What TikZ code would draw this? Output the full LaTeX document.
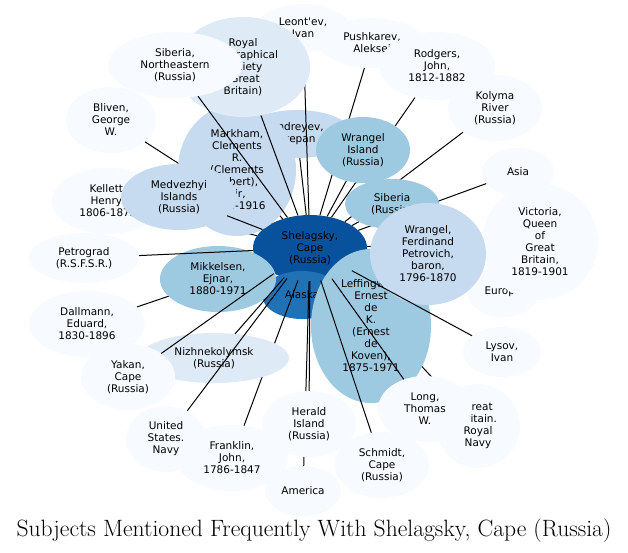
\documentclass[tikz,border=0pt]{standalone}
\usepackage{fontspec}
\usetikzlibrary{shapes.geometric}
\newfontfamily\subjfont{DejaVu Sans}
\definecolor{blue1}{HTML}{08519C}
\definecolor{blue2}{HTML}{2171B5}
\definecolor{blue3}{HTML}{9ECAE1}
\definecolor{blue4}{HTML}{C6DBEF}
\definecolor{blue5}{HTML}{DEEBF7}
\definecolor{blue6}{HTML}{F7FBFF}
\pgfdeclarelayer{bottom}
\pgfdeclarelayer{low}
\pgfdeclarelayer{mid}
\pgfdeclarelayer{front}
\pgfsetlayers{bottom,low,mid,main,front}

\begin{document}
\begin{tikzpicture}
  [ x=1pt, y=-1pt,
    el1/.style={ellipse, inner sep=0pt, align=center, fill=blue1, font=\subjfont\fontsize{10.5}{12}\selectfont},
    el2/.style={ellipse, inner sep=0pt, align=center, fill=blue2, font=\subjfont\fontsize{10.5}{12}\selectfont},
    el3/.style={ellipse, inner sep=0pt, align=center, fill=blue3, font=\subjfont\fontsize{10.5}{12}\selectfont},
    el4/.style={ellipse, inner sep=0pt, align=center, fill=blue4, font=\subjfont\fontsize{10.5}{12}\selectfont},
    el5/.style={ellipse, inner sep=0pt, align=center, fill=blue5, font=\subjfont\fontsize{10.5}{12}\selectfont},
    el6/.style={ellipse, inner sep=0pt, align=center, fill=blue6, font=\subjfont\fontsize{10.5}{12}\selectfont},
    sz/.style 2 args={minimum width=#1pt, minimum height=#2pt},
    line/.style={-, line width=1pt, black}
  ]
  \useasboundingbox (0,0) rectangle (628,552);

  % outer ring, drawn first
  \begin{pgfonlayer}{low}
  \node[el1, sz={114}{66}] (shel) at (310,248) {Shelagsky,\\Cape\\(Russia)};
  \node[el2, sz={80}{48}] (alaska) at (302,295) {Alaska};
  \node[el6, sz={94}{48}] (leontev) at (303,28) {Leont\textquotesingle ev,\\Ivan};
  \node[el6, sz={104}{50}] (pushkarev) at (372,43) {Pushkarev,\\Aleksei};
  \node[el6, sz={116}{68}] (rodgers) at (437,66) {Rodgers,\\John,\\1812-1882};
  \node[el6, sz={94}{66}] (kolyma) at (495,108) {Kolyma\\River\\(Russia)};
  \node[el6, sz={72}{48}] (asia) at (518,172) {Asia};
  \node[el6, sz={72}{50}] (europe) at (503,292) {Europe};
  \node[el6, sz={116}{116}] (victoria) at (540,242) {Victoria,\\Queen\\of\\Great\\Britain,\\1819-1901};
  \node[el6, sz={78}{50}] (lysov) at (502,352) {Lysov,\\Ivan};
  \node[el6, sz={84}{84}] (gbnavy) at (478,426) {Great\\Britain.\\Royal\\Navy};
  \node[el6, sz={94}{66}] (schmidt) at (382,465) {Schmidt,\\Cape\\(Russia)};
  \node[el6, sz={76}{50}] (america) at (303,491) {America};
  \node[el6, sz={112}{66}] (franklin) at (232,458) {Franklin,\\John,\\1786-1847};
  \node[el6, sz={80}{66}] (usnavy) at (166,439) {United\\States.\\Navy};
  \node[el6, sz={116}{66}] (dallmann) at (87,324) {Dallmann,\\Eduard,\\1830-1896};
  \node[el6, sz={110}{50}] (petrograd) at (84,258) {Petrograd\\(R.S.F.S.R.)};
  \node[el6, sz={112}{66}] (kellett) at (108,201) {Kellett,\\Henry,\\1806-1875};
  \node[el6, sz={90}{66}] (bliven) at (111,120) {Bliven,\\George\\W.};
  \node[el4, sz={110}{48}] (andreyev) at (297,134) {Andreyev,\\Stepan};
  \end{pgfonlayer}

  % inner ring
  \node[el4, sz={118}{132}] (markham) at (237,170) {Markham,\\Clements\\R.\\(Clements\\Robert),\\Sir,\\1830-1916};
  \node[el5, sz={134}{100}] (rgs) at (243,67) {Royal\\Geographical\\Society\\(Great\\Britain)};
  \node[el6, sz={134}{66}] (sibne) at (175,65) {Siberia,\\Northeastern\\(Russia)};
  \node[el4, sz={116}{66}] (medvezhyi) at (179,197) {Medvezhyi\\Islands\\(Russia)};
  \node[el3, sz={94}{66}] (wrangisl) at (363,150) {Wrangel\\Island\\(Russia)};
  \node[el3, sz={94}{50}] (siberia) at (392,204) {Siberia\\(Russia)};
  \node[el3, sz={120}{154}] (leffingwell) at (371,326) {Leffingwell,\\Ernest\\de\\K.\\(Ernest\\de\\Koven),\\1875-1971};
  \node[el4, sz={116}{102}] (wrangel) at (428,254) {Wrangel,\\Ferdinand\\Petrovich,\\baron,\\1796-1870};
  \node[el3, sz={116}{66}] (mikkelsen) at (218,279) {Mikkelsen,\\Ejnar,\\1880-1971};
  \node[el5, sz={150}{50}] (nizhne) at (214,358) {Nizhnekolymsk\\(Russia)};
  \node[el6, sz={94}{66}] (yakan) at (128,377) {Yakan,\\Cape\\(Russia)};
  \node[el6, sz={94}{66}] (herald) at (309,424) {Herald\\Island\\(Russia)};
  \node[el6, sz={94}{66}] (long) at (425,409) {Long,\\Thomas\\W.};

  \begin{pgfonlayer}{bottom}
  \draw [line] (shel) -- (alaska);
  \draw [line] (shel) -- (markham);
  \draw [line] (shel) -- (mikkelsen);
  \draw [line] (shel) -- (wrangel);
  \draw [line] (shel) -- (leffingwell);
  \end{pgfonlayer}

  \begin{pgfonlayer}{mid}
  \draw [line] (shel) -- (leontev);
  \draw [line] (shel) -- (pushkarev);
  \draw [line] (shel) -- (rodgers);
  \draw [line] (shel) -- (kolyma);
  \draw [line] (shel) -- (asia);
  \draw [line] (shel) -- (europe);
  \draw [line] (shel) -- (victoria);
  \draw [line] (shel) -- (bliven);
  \draw [line] (shel) -- (kellett);
  \draw [line] (shel) -- (dallmann);
  \draw [line] (shel) -- (franklin);
  \draw [line] (shel) -- (america);
  \draw [line] (shel) -- (gbnavy);
  \end{pgfonlayer}

  \begin{pgfonlayer}{front}
  \draw [line] (shel) -- (sibne);
  \draw [line] (shel) -- (rgs);
  \draw [line] (shel) -- (andreyev);
  \draw [line] (shel) -- (wrangisl);
  \draw [line] (shel) -- (siberia);
  \draw [line] (shel) -- (medvezhyi);
  \draw [line] (shel) -- (petrograd);
  \draw [line] (shel) -- (yakan);
  \draw [line] (shel) -- (nizhne);
  \draw [line] (shel) -- (usnavy);
  \draw [line] (shel) -- (herald);
  \draw [line] (shel) -- (schmidt);
  \draw [line] (shel) -- (long);
  \draw [line] (shel) -- (lysov);
  \end{pgfonlayer}

  \node[font=\fontsize{23.6}{26}\selectfont, anchor=base] (title) at (314,536) {Subjects Mentioned Frequently With Shelagsky, Cape (Russia)};
\end{tikzpicture}
\end{document}
